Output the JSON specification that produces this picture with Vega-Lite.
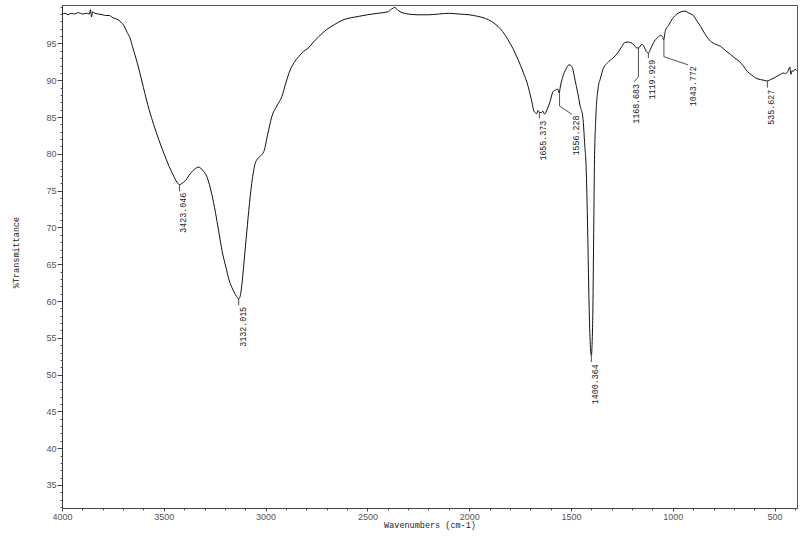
{
  "$schema": "https://vega.github.io/schema/vega-lite/v6.json",
  "width": 735,
  "height": 503,
  "autosize": {"type": "none"},
  "padding": {"left": 62, "top": 5, "right": 3, "bottom": 29},
  "background": "white",
  "config": {"view": {"stroke": "#555", "strokeWidth": 1}, "font": "Liberation Sans"},
  "datasets": {
    "spectrum": [
      {"wn": 4000, "t": 99.0}, {"wn": 3985, "t": 99.1}, {"wn": 3970, "t": 98.9}, {"wn": 3955, "t": 99.1},
      {"wn": 3940, "t": 99.0}, {"wn": 3920, "t": 99.2}, {"wn": 3900, "t": 99.0}, {"wn": 3880, "t": 99.1},
      {"wn": 3866, "t": 99.0}, {"wn": 3860, "t": 99.6}, {"wn": 3855, "t": 98.6}, {"wn": 3850, "t": 99.3},
      {"wn": 3838, "t": 99.1}, {"wn": 3820, "t": 99.0}, {"wn": 3800, "t": 98.9}, {"wn": 3785, "t": 98.8},
      {"wn": 3768, "t": 98.8}, {"wn": 3750, "t": 98.5}, {"wn": 3730, "t": 98.3}, {"wn": 3710, "t": 97.9},
      {"wn": 3695, "t": 97.4}, {"wn": 3680, "t": 96.5}, {"wn": 3665, "t": 95.7}, {"wn": 3654, "t": 94.6},
      {"wn": 3640, "t": 93.3}, {"wn": 3621, "t": 91.4}, {"wn": 3600, "t": 89.0}, {"wn": 3572, "t": 86.0},
      {"wn": 3550, "t": 84.0}, {"wn": 3523, "t": 81.8}, {"wn": 3500, "t": 80.1}, {"wn": 3474, "t": 78.3},
      {"wn": 3450, "t": 76.9}, {"wn": 3432, "t": 76.0}, {"wn": 3423, "t": 75.8}, {"wn": 3410, "t": 76.0},
      {"wn": 3393, "t": 76.4}, {"wn": 3370, "t": 77.3}, {"wn": 3345, "t": 78.0}, {"wn": 3328, "t": 78.2},
      {"wn": 3310, "t": 77.8}, {"wn": 3287, "t": 76.8}, {"wn": 3265, "t": 74.6}, {"wn": 3246, "t": 72.0},
      {"wn": 3230, "t": 69.4}, {"wn": 3213, "t": 66.7}, {"wn": 3195, "t": 64.6}, {"wn": 3181, "t": 63.0},
      {"wn": 3160, "t": 61.5}, {"wn": 3142, "t": 60.6}, {"wn": 3132, "t": 60.3}, {"wn": 3123, "t": 60.9},
      {"wn": 3115, "t": 62.6}, {"wn": 3107, "t": 65.0}, {"wn": 3095, "t": 68.6}, {"wn": 3083, "t": 72.2},
      {"wn": 3068, "t": 76.0}, {"wn": 3050, "t": 78.8}, {"wn": 3030, "t": 79.6}, {"wn": 3009, "t": 80.3},
      {"wn": 2990, "t": 82.6}, {"wn": 2969, "t": 85.1}, {"wn": 2945, "t": 86.5}, {"wn": 2920, "t": 87.8},
      {"wn": 2900, "t": 89.7}, {"wn": 2879, "t": 91.4}, {"wn": 2860, "t": 92.4}, {"wn": 2838, "t": 93.2},
      {"wn": 2815, "t": 93.9}, {"wn": 2789, "t": 94.4}, {"wn": 2765, "t": 95.2}, {"wn": 2740, "t": 95.9},
      {"wn": 2700, "t": 96.9}, {"wn": 2660, "t": 97.6}, {"wn": 2620, "t": 98.2}, {"wn": 2580, "t": 98.5},
      {"wn": 2540, "t": 98.7}, {"wn": 2500, "t": 98.9}, {"wn": 2450, "t": 99.1}, {"wn": 2400, "t": 99.3},
      {"wn": 2380, "t": 99.7}, {"wn": 2365, "t": 99.9}, {"wn": 2350, "t": 99.5}, {"wn": 2330, "t": 99.2},
      {"wn": 2300, "t": 99.0}, {"wn": 2250, "t": 98.9}, {"wn": 2200, "t": 98.9}, {"wn": 2150, "t": 99.0},
      {"wn": 2100, "t": 99.1}, {"wn": 2050, "t": 99.0}, {"wn": 2000, "t": 98.9}, {"wn": 1960, "t": 98.7},
      {"wn": 1920, "t": 98.4}, {"wn": 1890, "t": 98.0}, {"wn": 1858, "t": 97.3}, {"wn": 1835, "t": 96.6},
      {"wn": 1809, "t": 95.5}, {"wn": 1785, "t": 94.3}, {"wn": 1760, "t": 92.8}, {"wn": 1735, "t": 91.1},
      {"wn": 1711, "t": 89.2}, {"wn": 1695, "t": 87.4}, {"wn": 1680, "t": 85.7}, {"wn": 1668, "t": 85.5},
      {"wn": 1662, "t": 85.9}, {"wn": 1655, "t": 85.6}, {"wn": 1646, "t": 85.6}, {"wn": 1638, "t": 85.8},
      {"wn": 1630, "t": 85.4}, {"wn": 1618, "t": 86.0}, {"wn": 1605, "t": 86.9}, {"wn": 1589, "t": 88.4},
      {"wn": 1575, "t": 88.7}, {"wn": 1565, "t": 88.8}, {"wn": 1558, "t": 88.3}, {"wn": 1552, "t": 89.2},
      {"wn": 1540, "t": 90.5}, {"wn": 1525, "t": 91.5}, {"wn": 1510, "t": 92.1}, {"wn": 1500, "t": 92.0},
      {"wn": 1492, "t": 91.6}, {"wn": 1480, "t": 90.0}, {"wn": 1467, "t": 88.3}, {"wn": 1455, "t": 86.5},
      {"wn": 1442, "t": 85.0}, {"wn": 1432, "t": 81.0}, {"wn": 1426, "t": 78.4}, {"wn": 1418, "t": 69.4},
      {"wn": 1412, "t": 60.5}, {"wn": 1406, "t": 54.5}, {"wn": 1400, "t": 52.6}, {"wn": 1396, "t": 54.5},
      {"wn": 1393, "t": 58.0}, {"wn": 1389, "t": 68.0}, {"wn": 1385, "t": 78.4}, {"wn": 1378, "t": 85.0},
      {"wn": 1368, "t": 88.7}, {"wn": 1355, "t": 90.3}, {"wn": 1344, "t": 91.4}, {"wn": 1320, "t": 92.4},
      {"wn": 1295, "t": 93.0}, {"wn": 1271, "t": 93.7}, {"wn": 1250, "t": 94.6}, {"wn": 1238, "t": 95.1},
      {"wn": 1220, "t": 95.2}, {"wn": 1206, "t": 95.1}, {"wn": 1190, "t": 94.8}, {"wn": 1178, "t": 94.4},
      {"wn": 1168, "t": 94.4}, {"wn": 1152, "t": 94.9}, {"wn": 1140, "t": 94.5}, {"wn": 1130, "t": 93.9},
      {"wn": 1120, "t": 93.7}, {"wn": 1110, "t": 94.2}, {"wn": 1095, "t": 95.1}, {"wn": 1075, "t": 95.8},
      {"wn": 1060, "t": 96.1}, {"wn": 1050, "t": 95.9}, {"wn": 1044, "t": 95.5}, {"wn": 1038, "t": 96.6},
      {"wn": 1020, "t": 97.5}, {"wn": 1001, "t": 98.4}, {"wn": 980, "t": 99.0}, {"wn": 960, "t": 99.3},
      {"wn": 940, "t": 99.4}, {"wn": 920, "t": 99.1}, {"wn": 903, "t": 98.9}, {"wn": 880, "t": 98.0},
      {"wn": 863, "t": 97.3}, {"wn": 840, "t": 96.2}, {"wn": 814, "t": 95.3}, {"wn": 790, "t": 94.9},
      {"wn": 765, "t": 94.6}, {"wn": 740, "t": 94.0}, {"wn": 716, "t": 93.5}, {"wn": 695, "t": 93.0},
      {"wn": 675, "t": 92.6}, {"wn": 655, "t": 92.0}, {"wn": 634, "t": 91.2}, {"wn": 612, "t": 90.7},
      {"wn": 593, "t": 90.3}, {"wn": 570, "t": 90.1}, {"wn": 552, "t": 90.0}, {"wn": 536, "t": 89.9},
      {"wn": 520, "t": 90.1}, {"wn": 503, "t": 90.3}, {"wn": 485, "t": 90.6}, {"wn": 471, "t": 90.8},
      {"wn": 455, "t": 91.0}, {"wn": 447, "t": 90.9}, {"wn": 435, "t": 91.2}, {"wn": 425, "t": 91.8},
      {"wn": 420, "t": 90.8}, {"wn": 414, "t": 91.3}, {"wn": 408, "t": 91.2}, {"wn": 400, "t": 91.5},
      {"wn": 392, "t": 91.3}
    ],
    "leaders": [
      {"id": "a", "o": 1, "wn": 3423.046, "t": 75.8}, {"id": "a", "o": 2, "wn": 3423.046, "t": 74.9},
      {"id": "b", "o": 1, "wn": 3132.015, "t": 60.3}, {"id": "b", "o": 2, "wn": 3132.015, "t": 59.4},
      {"id": "c", "o": 1, "wn": 1655.373, "t": 85.6}, {"id": "c", "o": 2, "wn": 1655.373, "t": 84.8},
      {"id": "d", "o": 1, "wn": 1556.228, "t": 88.5}, {"id": "d", "o": 2, "wn": 1556.228, "t": 86.5}, {"id": "d", "o": 3, "wn": 1497, "t": 85.4},
      {"id": "e", "o": 1, "wn": 1400.364, "t": 52.6}, {"id": "e", "o": 2, "wn": 1400.364, "t": 51.7},
      {"id": "f", "o": 1, "wn": 1168.683, "t": 94.4}, {"id": "f", "o": 2, "wn": 1168.683, "t": 90.5}, {"id": "f", "o": 3, "wn": 1190, "t": 89.8},
      {"id": "g", "o": 1, "wn": 1119.929, "t": 93.7}, {"id": "g", "o": 2, "wn": 1119.929, "t": 93.0},
      {"id": "h", "o": 1, "wn": 1043.772, "t": 95.5}, {"id": "h", "o": 2, "wn": 1043.772, "t": 93.2}, {"id": "h", "o": 3, "wn": 925, "t": 92.1},
      {"id": "i", "o": 1, "wn": 535.627, "t": 89.9}, {"id": "i", "o": 2, "wn": 535.627, "t": 89.0}
    ],
    "labels": [
      {"label": "3423.046", "wn": 3423.046, "t": 74.7},
      {"label": "3132.015", "wn": 3132.015, "t": 59.2},
      {"label": "1655.373", "wn": 1655.373, "t": 84.5},
      {"label": "1556.228", "wn": 1495, "t": 85.2},
      {"label": "1400.364", "wn": 1400.364, "t": 51.4},
      {"label": "1168.683", "wn": 1198, "t": 89.5},
      {"label": "1119.929", "wn": 1119.929, "t": 92.8},
      {"label": "1043.772", "wn": 922, "t": 91.9},
      {"label": "535.627", "wn": 535.627, "t": 88.7}
    ]
  },
  "resolve": {"axis": {"x": "independent", "y": "independent"}},
  "layer": [
    {
      "data": {"name": "spectrum"},
      "mark": {"type": "line", "color": "#111", "strokeWidth": 1, "interpolate": "monotone"},
      "encoding": {
        "x": {"field": "wn", "type": "quantitative",
          "scale": {"domain": [4000, 390], "nice": false, "zero": false},
          "axis": {"orient": "bottom", "values": [4000, 3500, 3000, 2500, 2000, 1500, 1000, 500], "format": "d",
            "title": "Wavenumbers (cm-1)", "titleFont": "Liberation Mono", "titleFontSize": 8.5, "titleFontWeight": "normal",
            "titleColor": "#222", "titleY": 19, "titleBaseline": "alphabetic",
            "grid": false, "tickSize": 3, "tickColor": "#444", "domainColor": "#444",
            "labelFontSize": 9, "labelColor": "#555", "labelPadding": 1.5, "labelFlush": false}},
        "y": {"field": "t", "type": "quantitative",
          "scale": {"domain": [31.87, 100.23], "nice": false, "zero": false},
          "axis": {"orient": "left", "values": [35, 40, 45, 50, 55, 60, 65, 70, 75, 80, 85, 90, 95], "format": "d",
            "title": "%Transmittance", "titleFont": "Liberation Mono", "titleFontSize": 8.5, "titleFontWeight": "normal",
            "titleColor": "#222", "titleX": -47, "titleY": 247, "titleAngle": 270, "titleAlign": "center", "titleBaseline": "middle",
            "grid": false, "tickSize": 5, "tickColor": "#444", "domainColor": "#333",
            "labelFontSize": 9, "labelColor": "#555", "labelPadding": 1}}
      }
    },
    {
      "data": {"name": "spectrum"},
      "mark": {"type": "line", "strokeOpacity": 0},
      "encoding": {
        "x": {"field": "wn", "type": "quantitative",
          "scale": {"domain": [4000, 390], "nice": false, "zero": false},
          "axis": {"orient": "bottom", "values": [3900, 3800, 3700, 3600, 3400, 3300, 3200, 3100, 2900, 2800, 2700, 2600, 2400, 2300, 2200, 2100, 1900, 1800, 1700, 1600, 1400, 1300, 1200, 1100, 900, 800, 700, 600, 400],
            "title": null, "labels": false, "domain": false, "grid": false, "tickSize": 2, "tickColor": "#555"}},
        "y": {"field": "t", "type": "quantitative",
          "scale": {"domain": [31.87, 100.23], "nice": false, "zero": false},
          "axis": {"orient": "left", "values": [32, 33, 34, 36, 37, 38, 39, 41, 42, 43, 44, 46, 47, 48, 49, 51, 52, 53, 54, 56, 57, 58, 59, 61, 62, 63, 64, 66, 67, 68, 69, 71, 72, 73, 74, 76, 77, 78, 79, 81, 82, 83, 84, 86, 87, 88, 89, 91, 92, 93, 94, 96, 97, 98, 99, 100],
            "title": null, "labels": false, "domain": false, "grid": false, "tickSize": 2, "tickColor": "#555"}}
      }
    },
    {
      "data": {"name": "leaders"},
      "mark": {"type": "line", "color": "#222", "strokeWidth": 0.8},
      "encoding": {
        "x": {"field": "wn", "type": "quantitative", "axis": null},
        "y": {"field": "t", "type": "quantitative", "axis": null},
        "detail": {"field": "id"},
        "order": {"field": "o"}
      }
    },
    {
      "data": {"name": "labels"},
      "mark": {"type": "text", "angle": 270, "align": "right", "baseline": "top", "font": "Liberation Mono", "fontSize": 8.3, "color": "#222"},
      "encoding": {
        "x": {"field": "wn", "type": "quantitative", "axis": null},
        "y": {"field": "t", "type": "quantitative", "axis": null},
        "text": {"field": "label"}
      }
    }
  ]
}
